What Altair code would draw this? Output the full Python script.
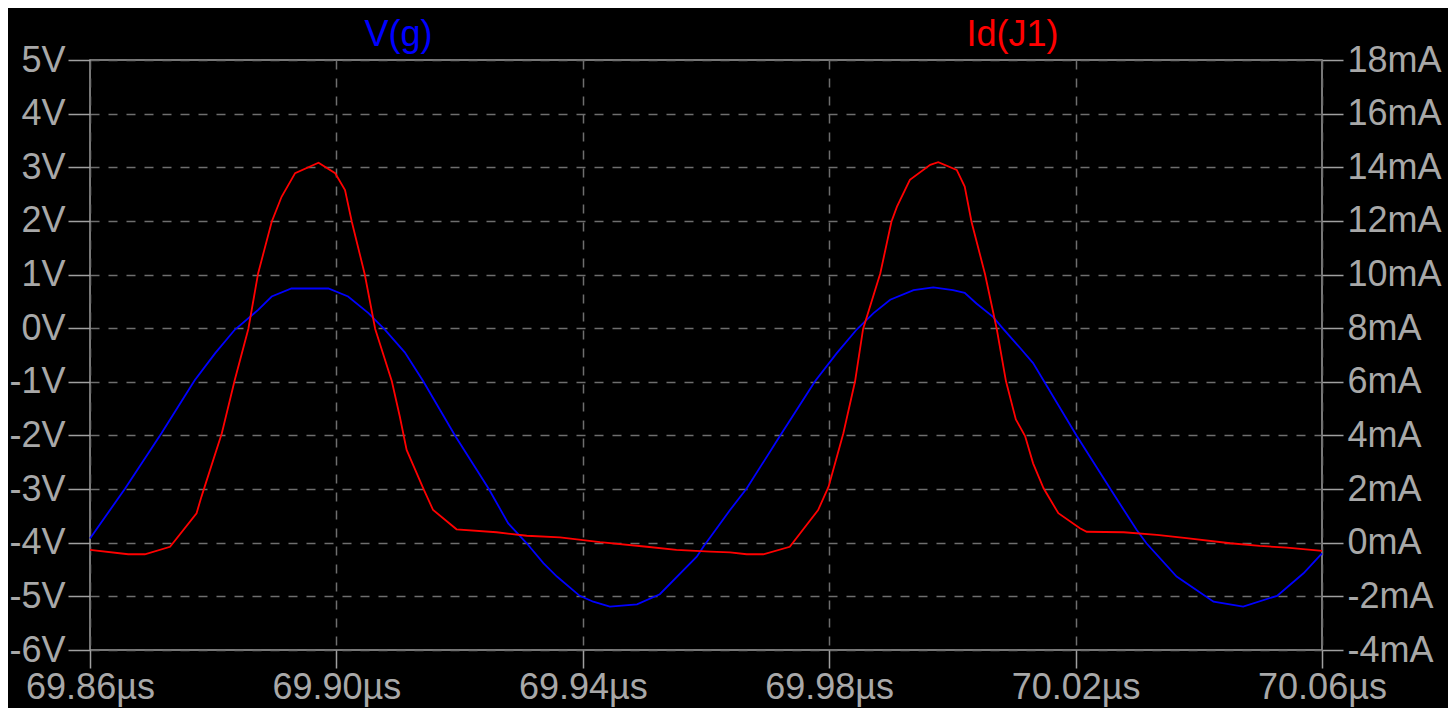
import altair as alt
import pandas as pd

# V(g) trace (time in µs, volts)
vg_t = [69.86, 69.8657, 69.8716, 69.8770, 69.8803, 69.8835, 69.8873, 69.8895, 69.8927,
        69.8987, 69.9019, 69.9052, 69.9079, 69.9111, 69.9141, 69.9193, 69.9247, 69.9279,
        69.9309, 69.9336, 69.9358, 69.9395, 69.9417, 69.9444, 69.9488, 69.9525, 69.9585,
        69.9596, 69.9639, 69.9666, 69.9720, 69.9777, 69.9812, 69.9845, 69.9872, 69.9899,
        69.9937, 69.9969, 70.0001, 70.0020, 70.0039, 70.0066, 70.0080, 70.0110, 70.0131,
        70.0202, 70.0256, 70.0299, 70.0315, 70.0364, 70.0424, 70.0472, 70.0527, 70.0570,
        70.06]
vg_v = [-3.92, -2.99, -1.96, -0.97, -0.47, -0.03, 0.34, 0.59, 0.74,
        0.74, 0.59, 0.28, -0.03, -0.45, -0.99, -2.01, -2.99, -3.64,
        -4.01, -4.38, -4.63, -4.99, -5.10, -5.19, -5.15, -4.96, -4.26,
        -4.07, -3.39, -2.99, -2.01, -0.99, -0.47, -0.02, 0.28, 0.53,
        0.71, 0.76, 0.71, 0.66, 0.46, 0.21, 0.02, -0.37, -0.65,
        -2.01, -2.99, -3.76, -4.01, -4.63, -5.10, -5.19, -4.99, -4.57,
        -4.20]

# Id(J1) trace (time in µs, mA)
id_t = [69.86, 69.8662, 69.8689, 69.8730, 69.8773, 69.8781, 69.8814, 69.8835, 69.8857,
        69.8873, 69.8895, 69.8911, 69.8933, 69.8971, 69.8998, 69.9014, 69.9025, 69.9046,
        69.9063, 69.9090, 69.9103, 69.9114, 69.9141, 69.9157, 69.9195, 69.9260, 69.9309,
        69.9363, 69.9428, 69.9504, 69.9552, 69.9607, 69.9639, 69.9666, 69.9693, 69.9736,
        69.9782, 69.9799, 69.9823, 69.9842, 69.9855, 69.9883, 69.9901, 69.9910, 69.9931,
        69.9964, 69.9977, 70.0007, 70.0020, 70.0031, 70.0053, 70.0072, 70.0087, 70.0103,
        70.0118, 70.0131, 70.0148, 70.0172, 70.0207, 70.0218, 70.0278, 70.0332, 70.0380,
        70.0451, 70.0499, 70.0543, 70.06]
id_ma = [-0.27, -0.43, -0.43, -0.15, 1.10, 1.72, 4.08, 6.07, 7.97,
         10.05, 11.97, 12.90, 13.78, 14.17, 13.78, 13.15, 11.97, 10.01,
         7.97, 6.02, 4.70, 3.46, 2.03, 1.22, 0.50, 0.39, 0.26,
         0.20, 0.02, -0.15, -0.27, -0.33, -0.36, -0.43, -0.43, -0.15,
         1.22, 2.09, 4.08, 6.02, 7.97, 10.05, 11.97, 12.53, 13.53,
         14.09, 14.19, 13.90, 13.28, 11.97, 10.01, 7.97, 6.02, 4.60,
         3.98, 2.96, 2.03, 1.10, 0.54, 0.41, 0.39, 0.29, 0.17,
         -0.02, -0.12, -0.18, -0.30]

x_ticks = [69.86, 69.90, 69.94, 69.98, 70.02, 70.06]
v_ticks = [-6, -5, -4, -3, -2, -1, 0, 1, 2, 3, 4, 5]
ma_ticks = [-4, -2, 0, 2, 4, 6, 8, 10, 12, 14, 16, 18]

vg_df = pd.DataFrame({"t": vg_t, "v": vg_v})
id_df = pd.DataFrame({"t": id_t, "ma": id_ma})

FONT = "Liberation Sans"
FS = 36
TXT = "#A8A8A8"
AX = "#A0A0A0"
GRID = "#6E6E6E"

x_enc = alt.X(
    "t:Q",
    scale=alt.Scale(domain=[69.86, 70.06], nice=False, zero=False),
    axis=alt.Axis(
        values=x_ticks, labelExpr="format(datum.value, '.2f') + 'µs'",
        title=None, grid=True, gridColor=GRID, gridDash=[9, 9], gridWidth=1.5,
        domain=False, tickColor=AX, tickSize=18, tickWidth=1.5,
        labelColor=TXT, labelFont=FONT, labelFontSize=FS, labelPadding=2,
        labelFlush=False, labelOverlap=False,
    ),
)

blue = alt.Chart(vg_df).mark_line(color="#0000FF", strokeWidth=1.8).encode(
    x=x_enc,
    y=alt.Y(
        "v:Q",
        scale=alt.Scale(domain=[-6, 5], nice=False, zero=False),
        axis=alt.Axis(
            orient="left", values=v_ticks, labelExpr="datum.value + 'V'",
            title="V(g)", titleColor="#0000FF", titleFont=FONT, titleFontSize=FS,
            titleFontWeight="normal", titleAngle=0, titleAlign="center",
            titleBaseline="alphabetic", titleX=308, titleY=-15,
            grid=True, gridColor=GRID, gridDash=[9, 9], gridWidth=1.5,
            domain=False, tickColor=AX, tickSize=22, tickWidth=1.5,
            labelColor=TXT, labelFont=FONT, labelFontSize=FS, labelPadding=3,
            labelFlush=False, labelOverlap=False,
        ),
    ),
)

red = alt.Chart(id_df).mark_line(color="#FF0000", strokeWidth=1.8).encode(
    x=alt.X("t:Q"),
    y=alt.Y(
        "ma:Q",
        scale=alt.Scale(domain=[-4, 18], nice=False, zero=False),
        axis=alt.Axis(
            orient="right", values=ma_ticks, labelExpr="datum.value + 'mA'",
            title="Id(J1)", titleColor="#FF0000", titleFont=FONT, titleFontSize=FS,
            titleFontWeight="normal", titleAngle=0, titleAlign="center",
            titleBaseline="alphabetic", titleX=-310, titleY=-15,
            grid=False, domain=False, tickColor=AX, tickSize=21, tickWidth=1.5,
            labelColor=TXT, labelFont=FONT, labelFontSize=FS, labelPadding=4,
            labelFlush=False, labelOverlap=False,
        ),
    ),
)

chart = (
    alt.layer(blue, red)
    .resolve_scale(y="independent")
    .properties(
        width=1232, height=590,
        autosize=alt.AutoSizeParams(type="none"),
        padding={"left": 82, "top": 52, "right": 126, "bottom": 58},
        background="#000000",
    )
    .configure_view(stroke=AX, strokeWidth=1.5)
)

chart.save("out.html", embed_options={"renderer": "svg", "actions": False})
